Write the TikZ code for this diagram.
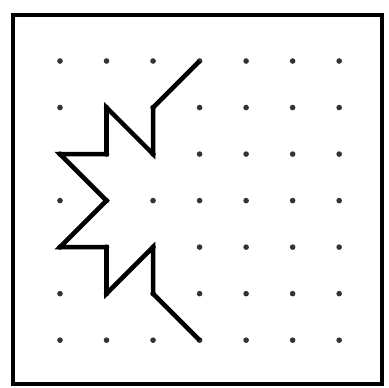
\documentclass[tikz,border=0pt]{standalone}
\usepackage{tikz}
\tikzstyle{frame} = [draw=black, line width=1.4pt]
\tikzstyle{griddot} = [fill=black!80]
\tikzstyle{zigzag} = [draw=black, line width=1.3pt, line join=miter]

\begin{document}
\begin{tikzpicture}[x=0.01cm, y=-0.01cm]
    \useasboundingbox (0,0) rectangle (389,387);
    \draw [frame] (13,15) rectangle (382,384);

    \begin{scope}[shift={(60,61)}, x=0.465cm, y=-0.465cm]
        % dot grid
        \foreach \i in {0,...,6} {
            \foreach \j in {0,...,6} {
                \fill [griddot] (\i,\j) circle (0.8pt);
            }
        }
        % zigzag line
        \draw [zigzag] (3,0) -- (2,1) -- (2,2) -- (1,1) -- (1,2) -- (0,2)
            -- (1,3) -- (0,4) -- (1,4) -- (1,5) -- (2,4) -- (2,5) -- (3,6);
    \end{scope}
\end{tikzpicture}
\end{document}
